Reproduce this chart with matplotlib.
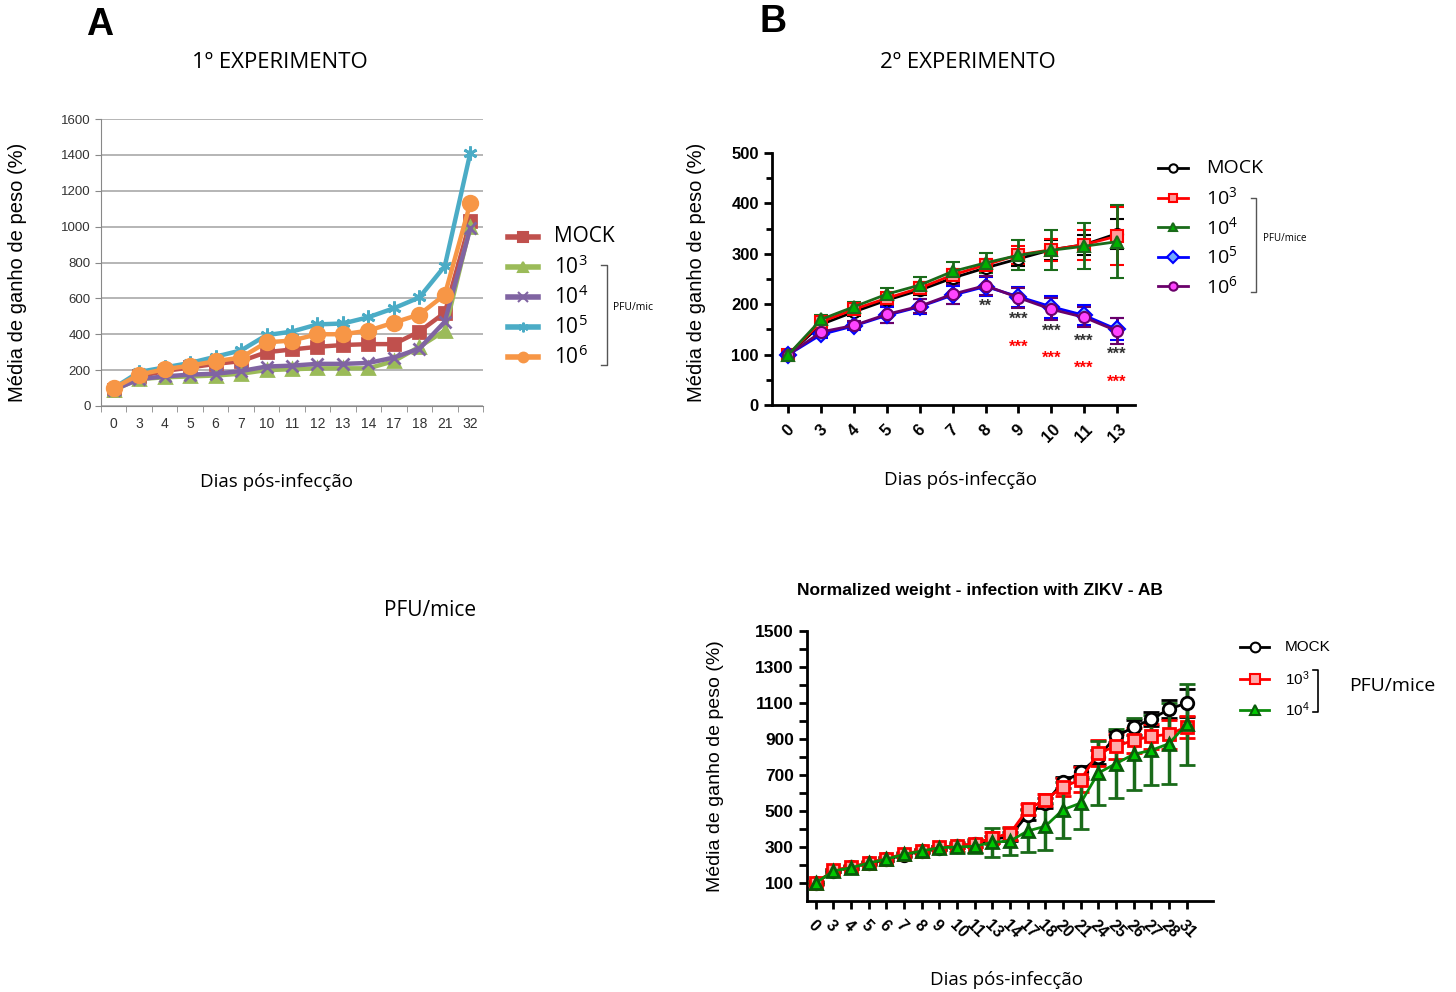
import numpy as np
import matplotlib
matplotlib.use('Agg')
import matplotlib.pyplot as plt
from matplotlib.lines import Line2D

plt.rcParams['font.family'] = ['Liberation Sans', 'DejaVu Sans']
plt.rcParams['mathtext.fontset'] = 'custom'
plt.rcParams['mathtext.rm'] = 'Open Sans'

W, H = 1456, 992

# ---- data: panel A (1st experiment) ----
days_a = ['0', '3', '4', '5', '6', '7', '10', '11', '12', '13', '14', '17', '18', '21', '32']
mock_a = [90, 165, 195, 215, 235, 250, 300, 315, 330, 340, 345, 345, 415, 520, 1030]
e3_a = [90, 150, 160, 165, 170, 180, 200, 205, 210, 210, 210, 250, 330, 420, 1000]
e4_a = [90, 150, 165, 175, 180, 195, 220, 225, 235, 235, 240, 270, 320, 470, 990]
e5_a = [100, 190, 215, 240, 275, 310, 395, 415, 455, 460, 495, 545, 605, 780, 1410]
e6_a = [100, 175, 205, 225, 250, 270, 355, 365, 400, 400, 420, 465, 510, 620, 1130]

# ---- data: panel B (2nd experiment) ----
days_b = ['0', '3', '4', '5', '6', '7', '8', '9', '10', '11', '13']
mock_b = [100, 160, 185, 208, 228, 252, 272, 290, 308, 318, 340]
mock_b_err = [3, 8, 8, 8, 10, 10, 10, 15, 20, 20, 30]
e3_b = [100, 165, 190, 212, 232, 258, 278, 298, 308, 318, 335]
e3_b_err = [5, 10, 10, 10, 12, 12, 12, 18, 22, 30, 58]
e4_b = [100, 170, 195, 220, 238, 265, 282, 297, 307, 315, 324]
e4_b_err = [5, 8, 10, 12, 16, 18, 20, 30, 40, 46, 72]
e5_b = [100, 140, 157, 178, 195, 218, 235, 215, 195, 178, 150]
e5_b_err = [4, 8, 8, 16, 15, 18, 18, 20, 22, 20, 22]
e6_b = [100, 145, 158, 180, 196, 220, 237, 213, 190, 174, 147]
e6_b_err = [4, 8, 8, 18, 14, 20, 18, 20, 22, 20, 25]
star_black_idx = [6, 7, 8, 9, 10]
star_black_y = [195, 170, 147, 127, 101]
star_black_txt = ['**', '***', '***', '***', '***']
star_red_idx = [7, 8, 9, 10]
star_red_y = [114, 92, 72, 46]

# ---- data: bottom panel (ZIKV - AB) ----
days_c = ['0', '3', '4', '5', '6', '7', '8', '9', '10', '11', '13', '14', '17', '18',
          '20', '21', '24', '25', '26', '27', '28', '31']
mock_c = [100, 168, 188, 210, 232, 255, 278, 296, 305, 315, 340, 360, 480, 545,
          660, 715, 800, 915, 965, 1010, 1065, 1100]
mock_c_err = [5, 8, 8, 8, 10, 10, 10, 10, 12, 15, 20, 25, 30, 30,
              30, 35, 40, 30, 40, 40, 50, 80]
e3_c = [100, 170, 190, 213, 236, 262, 280, 298, 308, 318, 352, 375, 510, 563,
        633, 674, 822, 859, 893, 915, 926, 967]
e3_c_err = [10, 10, 10, 10, 10, 10, 10, 10, 15, 20, 30, 35, 30, 30,
            50, 70, 70, 70, 70, 70, 80, 60]
e4_c = [100, 167, 185, 211, 233, 259, 278, 296, 300, 304, 326, 333, 389, 415,
        507, 544, 711, 763, 815, 837, 874, 981]
e4_c_err = [8, 8, 8, 8, 8, 8, 8, 10, 30, 40, 80, 75, 118, 130,
            155, 145, 180, 190, 200, 195, 225, 225]


def rect(l, t, r, b):
    return [l / W, 1 - b / H, (r - l) / W, (b - t) / H]


def fx(x):
    return x / W


def fy(y):
    return 1 - y / H


fig = plt.figure(figsize=(W / 100, H / 100), dpi=100)


def swatch(x0, x1, y, color, marker, mfc, mec, ms, lw=2):
    fig.add_artist(Line2D([fx(x0), fx(x1)], [fy(y), fy(y)], transform=fig.transFigure,
                          color=color, lw=lw))
    fig.add_artist(Line2D([fx((x0 + x1) / 2)], [fy(y)], transform=fig.transFigure,
                          marker=marker, ms=ms, mfc=mfc, mec=mec, mew=1.5, ls='none'))


def bracket(x, y0, y1, w=5, color='#555555', lw=1):
    fig.add_artist(Line2D([fx(x), fx(x + w), fx(x + w), fx(x)],
                          [fy(y0), fy(y0), fy(y1), fy(y1)],
                          transform=fig.transFigure, color=color, lw=lw))


# ================= panel A =================
fig.text(fx(100), fy(25), 'A', fontsize=27, fontweight='bold', ha='center', va='center')
fig.text(fx(280), fy(62), '1º EXPERIMENTO', fontsize=16, ha='center', va='center', family='Open Sans')

ax1 = fig.add_axes(rect(101, 119, 483, 406))
xa = np.arange(len(days_a))
colors_a = ['#C0504D', '#9BBB59', '#8064A2', '#4BACC6', '#F79646']
series_a = [mock_a, e3_a, e4_a, e5_a, e6_a]
markers_a = ['s', '^', 'x', (6, 2, 0), 'o']
sizes_a = [8.5, 8, 8, 10, 10.5]
for vals, c, m, s in zip(series_a, colors_a, markers_a, sizes_a):
    ax1.plot(xa, vals, color=c, lw=3.2, marker=m, ms=s, mew=2, zorder=3)
ax1.set_xlim(-0.5, len(days_a) - 0.5)
ax1.set_ylim(0, 1600)
ax1.set_yticks(np.arange(0, 1601, 200))
ax1.set_xticks(xa)
ax1.set_xticklabels(days_a)
ax1.set_xticks(np.arange(-0.5, len(days_a), 1), minor=True)
ax1.tick_params(axis='x', which='major', length=0, labelsize=10, labelcolor='#333333', pad=8)
ax1.tick_params(axis='x', which='minor', length=4, color='#888888')
ax1.tick_params(axis='y', length=4, color='#888888', labelsize=9.5, labelcolor='#333333')
ax1.grid(axis='y', color='#b0b0b0', lw=1.3)
ax1.set_axisbelow(True)
for s in ['top', 'right']:
    ax1.spines[s].set_visible(False)
ax1.spines['left'].set_color('#888888')
ax1.spines['bottom'].set_color('#888888')
fig.text(fx(18), fy(272), 'Média de ganho de peso (%)', rotation=90, fontsize=14.5,
         ha='center', va='center')
fig.text(fx(276), fy(482), 'Dias pós-infecção', fontsize=13.5, ha='center', va='center',
         family='Open Sans')

labels_a = ['MOCK', r'$\mathregular{10^3}$', r'$\mathregular{10^4}$',
            r'$\mathregular{10^5}$', r'$\mathregular{10^6}$']
for i, (c, m, lab) in enumerate(zip(colors_a, markers_a, labels_a)):
    y = 237 + 30 * i
    swatch(508, 538, y, c, m, c, c, 7, lw=4)
    fig.text(fx(554), fy(y), lab, fontsize=15, ha='left', va='center', family='Open Sans')
bracket(601, 265, 365, w=6)
fig.text(fx(613), fy(307), 'PFU/mic', fontsize=7.5, ha='left', va='center', family='Open Sans')

fig.text(fx(430), fy(611), 'PFU/mice', fontsize=15, ha='center', va='center', family='Open Sans')

# ================= panel B =================
fig.text(fx(773), fy(22), 'B', fontsize=27, fontweight='bold', ha='center', va='center')
fig.text(fx(968), fy(62), '2º EXPERIMENTO', fontsize=16, ha='center', va='center', family='Open Sans')

ax2 = fig.add_axes(rect(772, 153, 1135, 405))
xb = np.arange(len(days_b))
styles_b = [
    (mock_b, mock_b_err, 'black', 'o', 'white', 'black'),
    (e3_b, e3_b_err, 'red', 's', '#ff9a9a', 'red'),
    (e5_b, e5_b_err, 'blue', 'D', '#6fa8ff', 'blue'),
    (e6_b, e6_b_err, '#6a006a', 'o', '#ff44ff', '#6a006a'),
    (e4_b, e4_b_err, '#1a6b1a', '^', '#00b000', '#1a6b1a'),
]
for vals, err, c, m, mfc, mec in styles_b:
    ax2.errorbar(xb, vals, yerr=err, color=c, lw=2, marker=m, ms=8, mfc=mfc, mec=mec,
                 mew=1.5, capsize=5, capthick=2, elinewidth=2, zorder=3)
for i, y, t in zip(star_black_idx, star_black_y, star_black_txt):
    ax2.text(xb[i], y, t, color='#333333', fontsize=12, fontweight='bold', ha='center', va='center')
for i, y in zip(star_red_idx, star_red_y):
    ax2.text(xb[i], y, '***', color='red', fontsize=12, fontweight='bold', ha='center', va='center')
ax2.set_xlim(-0.5, len(days_b) - 0.45)
ax2.set_ylim(0, 500)
ax2.set_yticks(np.arange(0, 501, 100))
ax2.set_yticks(np.arange(50, 500, 100), minor=True)
ax2.set_xticks(xb)
ax2.set_xticklabels(days_b, rotation=45, ha='center')
for s in ['top', 'right']:
    ax2.spines[s].set_visible(False)
for s in ['left', 'bottom']:
    ax2.spines[s].set_linewidth(2)
ax2.tick_params(axis='both', which='major', width=2, length=6)
ax2.tick_params(axis='y', which='minor', width=2, length=4)
ax2.tick_params(axis='y', labelsize=12)
ax2.tick_params(axis='x', labelsize=12, pad=6)
for lab in ax2.get_xticklabels() + ax2.get_yticklabels():
    lab.set_fontweight('bold')
fig.text(fx(697), fy(272), 'Média de ganho de peso (%)', rotation=90, fontsize=14.5,
         ha='center', va='center')
fig.text(fx(960), fy(480), 'Dias pós-infecção', fontsize=13.5, ha='center', va='center',
         family='Open Sans')

labels_b = ['MOCK', r'$\mathregular{10^3}$', r'$\mathregular{10^4}$',
            r'$\mathregular{10^5}$', r'$\mathregular{10^6}$']
leg_b = [('black', 'o', 'white', 'black'), ('red', 's', '#ff9a9a', 'red'),
         ('#1a6b1a', '^', '#00b000', '#1a6b1a'), ('blue', 'D', '#6fa8ff', 'blue'),
         ('#6a006a', 'o', '#ff44ff', '#6a006a')]
for i, ((c, m, mfc, mec), lab) in enumerate(zip(leg_b, labels_b)):
    y = 168 + 29.5 * i
    swatch(1158, 1188, y, c, m, mfc, mec, 6)
    fig.text(fx(1206), fy(y), lab, fontsize=14, ha='left', va='center', family='Open Sans')
bracket(1251, 198, 292, w=5)
fig.text(fx(1263), fy(238), 'PFU/mice', fontsize=7, ha='left', va='center', family='Open Sans')

# ================= bottom panel =================
fig.text(fx(980), fy(590), 'Normalized weight - infection with ZIKV - AB', fontsize=12.5,
         fontweight='bold', ha='center', va='center')
ax3 = fig.add_axes(rect(807, 631, 1213, 901))
xc = np.arange(len(days_c))
styles_c = [
    (mock_c, mock_c_err, 'black', 'o', 'white', 'black', 'black'),
    (e3_c, e3_c_err, 'red', 's', '#ffaaaa', 'red', 'red'),
    (e4_c, e4_c_err, '#0a8a0a', '^', '#00c800', '#0a5a0a', '#1a6b1a'),
]
for vals, err, c, m, mfc, mec, ec in styles_c:
    ax3.errorbar(xc, vals, yerr=err, color=c, ecolor=ec, lw=2, marker=m, ms=9, mfc=mfc,
                 mec=mec, mew=2, capsize=6, capthick=2.5, elinewidth=2.5, zorder=3)
ax3.set_xlim(-0.5, len(days_c) + 0.5)
ax3.set_ylim(0, 1500)
ax3.set_yticks(np.arange(100, 1501, 200))
ax3.set_yticks(np.arange(200, 1500, 200), minor=True)
ax3.set_xticks(xc)
ax3.set_xticklabels(days_c, rotation=-45, ha='left', rotation_mode='anchor')
for s in ['top', 'right']:
    ax3.spines[s].set_visible(False)
for s in ['left', 'bottom']:
    ax3.spines[s].set_linewidth(2)
ax3.tick_params(axis='both', which='both', width=2, length=6)
ax3.tick_params(axis='y', labelsize=12.5)
ax3.tick_params(axis='x', labelsize=11.5, pad=6)
for lab in ax3.get_xticklabels() + ax3.get_yticklabels():
    lab.set_fontweight('bold')
fig.text(fx(715), fy(766), 'Média de ganho de peso (%)', rotation=90, fontsize=14,
         ha='center', va='center')
fig.text(fx(1007), fy(980), 'Dias pós-infecção', fontsize=13.5, ha='center', va='center',
         family='Open Sans')

labels_c = ['MOCK', r'$\mathregular{10^3}$', r'$\mathregular{10^4}$']
leg_c = [('black', 'o', 'white', 'black'), ('red', 's', '#ffaaaa', 'red'),
         ('#0a8a0a', '^', '#00c800', '#0a5a0a')]
for i, ((c, m, mfc, mec), lab) in enumerate(zip(leg_c, labels_c)):
    y = 647 + 31.5 * i
    swatch(1240, 1269, y, c, m, mfc, mec, 7)
    fig.text(fx(1285), fy(y), lab, fontsize=11, ha='left', va='center')
bracket(1313, 670, 712, w=5, color='black', lw=1.2)
fig.text(fx(1349), fy(686), 'PFU/mice', fontsize=14, ha='left', va='center', family='Open Sans')

fig.savefig('out.png', dpi=100)
